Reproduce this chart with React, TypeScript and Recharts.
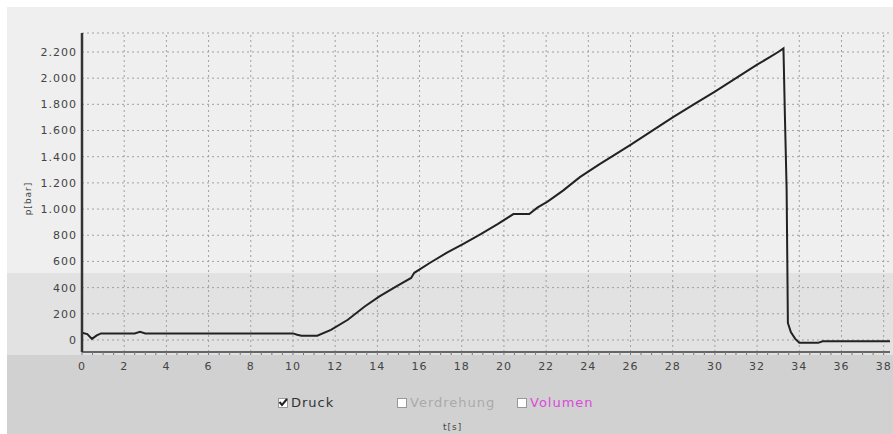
import React from 'react';
import { LineChart, Line, XAxis, YAxis, CartesianGrid, ReferenceLine } from 'recharts';

// Druck-Verlauf
const times = [
  0, 0.25, 0.47, 0.7, 0.9, 1.5, 2.5, 2.75, 3.0, 4, 5, 6, 7, 8, 9, 10, 10.2, 10.4, 11.15, 11.8,
  12.6, 13.4, 14.1, 14.9, 15.6, 15.75, 16.5, 17.3, 18.1, 18.9, 19.7, 20.45, 21.2, 21.6, 22.05,
  22.8, 23.6, 24.5, 25.3, 26, 27, 28, 29, 30, 31, 32, 32.6, 33.0, 33.25, 33.32, 33.4, 33.46,
  33.6, 33.8, 34.0, 34.9, 35.1, 36, 37, 38.3,
];
const druck = [
  56, 45, 8, 35, 50, 50, 50, 62, 50, 50, 50, 50, 50, 50, 50, 50, 40, 33, 33, 77,
  154, 256, 333, 410, 474, 513, 590, 667, 736, 808, 885, 962, 962, 1013, 1055,
  1141, 1244, 1340, 1420, 1490, 1595, 1700, 1800, 1897, 2000, 2103, 2160, 2200, 2228, 1700, 1150, 130,
  60, 10, -22, -22, -10, -10, -10, -10,
];

const xTicks = [0, 2, 4, 6, 8, 10, 12, 14, 16, 18, 20, 22, 24, 26, 28, 30, 32, 34, 36, 38];
const yTicks = [0, 200, 400, 600, 800, 1000, 1200, 1400, 1600, 1800, 2000, 2200];
const legendItems = [
  { name: 'Druck', checked: true, color: '#333' },
  { name: 'Verdrehung', checked: false, color: '#aaa' },
  { name: 'Volumen', checked: false, color: '#d94bd9' },
];

const data = times.map((t, i) => ({ t, p: druck[i] }));
const minorTicks = xTicks.flatMap((t) => [t, t + 0.5, t + 1, t + 1.5]).filter((t) => t <= 38.3);

const font = '"DejaVu Sans", sans-serif';

const XTick = (props: any) => {
  const { x, y, payload } = props;
  if (payload.value % 2 !== 0) return null;
  return (
    <text x={x} y={y} dy="0.71em" textAnchor="middle" fontSize={11} fill="#444" fontFamily={font} letterSpacing={1}>
      {payload.value}
    </text>
  );
};

const CheckBox = ({ checked }: { checked: boolean }) => (
  <svg width={10} height={10} style={{ marginRight: 3 }}>
    <rect x={0.5} y={0.5} width={9} height={9} fill="#fff" stroke="#999" />
    {checked && <path d="M1.5 4 L4 7 L9 1" fill="none" stroke="#222" strokeWidth={2} />}
  </svg>
);

export default function App() {
  return (
    <div style={{ position: 'absolute', left: 0, top: 0, width: 893, height: 434, background: '#fff', overflow: 'hidden' }}>
      <div style={{ position: 'absolute', left: 7, top: 7, width: 886, height: 266, background: '#efefef' }} />
      <div style={{ position: 'absolute', left: 7, top: 273, width: 886, height: 82, background: '#e2e2e2' }} />
      <div style={{ position: 'absolute', left: 7, top: 355, width: 886, height: 79, background: '#d1d1d1' }} />
      <LineChart
        width={893}
        height={434}
        data={data}
        margin={{ top: 33, right: 3, left: 0, bottom: 0 }}
        style={{ position: 'absolute', left: 0, top: 0 }}
      >
        <CartesianGrid vertical={false} stroke="#a0a0a0" strokeDasharray="2 3" />
        {xTicks.map((t) => (
          <ReferenceLine key={t} x={t} stroke="#a0a0a0" strokeDasharray="2 3" />
        ))}
        <XAxis
          dataKey="t"
          type="number"
          domain={[0, 38.3]}
          ticks={minorTicks}
          interval={0}
          height={82}
          tick={<XTick />}
          tickSize={3}
          tickMargin={7}
          tickLine={{ stroke: '#777' }}
          axisLine={{ stroke: '#666', strokeWidth: 2 }}
          allowDataOverflow
        />
        <YAxis
          type="number"
          domain={[-92, 2345]}
          ticks={yTicks}
          width={82}
          interval={0}
          allowDataOverflow
          tickLine={false}
          tickSize={3}
          tickMargin={2}
          axisLine={{ stroke: '#333', strokeWidth: 2.5 }}
          tick={{ fontSize: 11, fill: '#444', fontFamily: font, letterSpacing: 1 }}
          tickFormatter={(v: number) => v.toLocaleString('de-DE')}
          label={{
            content: (p: any) => {
              const vb = p.viewBox;
              const cx = vb.x + 31;
              const cy = vb.y + vb.height / 2 + 6;
              return (
                <text x={cx} y={cy} transform={`rotate(-90 ${cx} ${cy})`} textAnchor="middle" fontSize={9} fill="#444" fontFamily={font} letterSpacing={1}>
                  p[bar]
                </text>
              );
            },
          }}
        />
        <Line type="linear" dataKey="p" stroke="#222" strokeWidth={2} dot={false} isAnimationActive={false} />
      </LineChart>
      {legendItems.map((item, i) => (
        <div
          key={item.name}
          style={{
            position: 'absolute',
            left: [278, 397, 517][i],
            top: 396,
            display: 'flex',
            alignItems: 'center',
            fontFamily: font,
            fontSize: 13,
            letterSpacing: 1,
            color: item.color,
            lineHeight: '14px',
          }}
        >
          <CheckBox checked={item.checked} />
          {item.name}
        </div>
      ))}
      <div style={{ position: 'absolute', left: 443, top: 422, fontFamily: font, fontSize: 9, color: '#444', letterSpacing: 1 }}>t[s]</div>
    </div>
  );
}
